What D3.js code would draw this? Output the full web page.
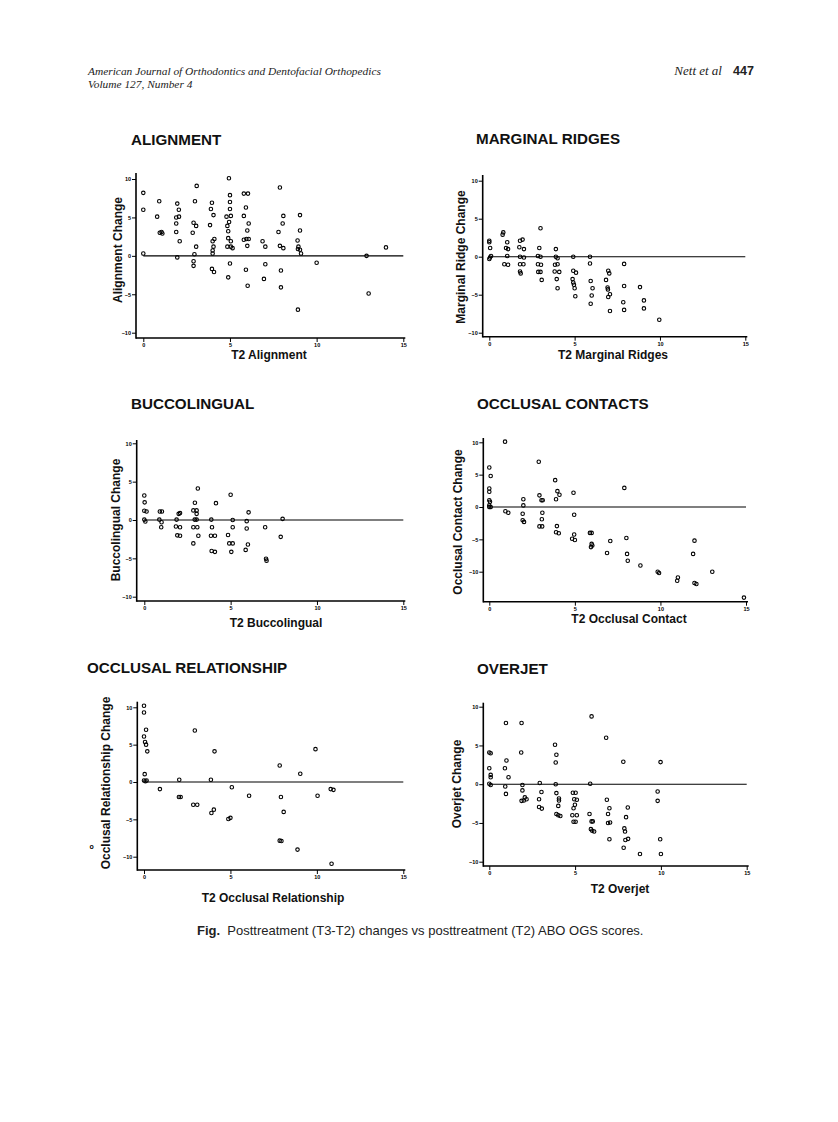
<!DOCTYPE html>
<html>
<head>
<meta charset="utf-8">
<script src="https://cdn.jsdelivr.net/npm/d3@7"></script>
<style>
  body { margin: 0; background: #fff; }
  svg { display: block; }
</style>
</head>
<body>
<svg id="page" width="838" height="1122"></svg>
<script>
// Werte: [T2-Score, Veränderung T3-T2]
const alignmentPts = [
  [0,8.2],[0,6],[0,0.3],[0.92,7.1],[0.8,5.1],[0.95,3],[1.05,3.1],[1.1,2.9],[1.96,6.8],[2.05,6],
  [1.9,5],[2.06,5.1],[1.9,4.2],[1.9,3.1],[2.1,1.9],[1.96,-0.2],[3.08,9.1],[2.98,7.1],[2.9,4.3],[3.05,3.9],
  [2.85,3],[3.05,1.2],[2.95,0.2],[2.9,-0.7],[2.9,-1.3],[3.96,6.9],[3.9,6.1],[4.05,5.3],[3.85,4],[4,1.9],
  [4.1,2.2],[4.05,1.2],[4,0.7],[4,0.3],[3.96,-1.7],[4.08,-2.1],[4.94,10.1],[5,7.9],[5,7],[5,6.1],
  [4.8,5.1],[5.05,5.2],[4.95,4.4],[4.85,3.9],[4.9,3.2],[4.9,2.3],[5.05,1.9],[4.85,1.2],[5.05,1.2],[5.15,1],
  [5,-1],[4.9,-2.8],[5.8,8.1],[6.04,8.1],[5.92,6.3],[5.8,5.2],[6.08,4.2],[6,3.3],[5.8,2.1],[5.95,2.2],
  [6.08,2.2],[6,1.3],[5.92,-1.8],[6.02,-3.9],[6.88,1.9],[7.04,1.2],[7.04,-1.1],[6.96,-3],[7.8,3.1],[7.88,8.9],
  [8.08,5.2],[8.04,4.2],[7.88,1.3],[8.08,1],[7.94,-1.9],[7.94,-4.1],[9.04,5.3],[9.04,3.3],[8.9,2],[8.95,1.2],
  [8.92,0.9],[9.04,0.8],[9.1,0.3],[8.92,-7],[10,-0.9],[12.88,0],[13,-4.9],[14,1.1]
];
const ridgesPts = [
  [0,2.1],[0,1.9],[0.05,1.15],[0.04,-0.1],[0,-0.3],[0.1,0.1],[0.82,3.2],[0.78,2.9],[1.05,1.9],[0.98,1.15],
  [1.1,1],[1.05,0.1],[0.88,-1],[1.1,-1.05],[1.8,2.1],[1.95,2.25],[1.76,1.25],[2.03,1],[1.8,0],[2.03,-0.1],
  [1.8,-1],[2,-1],[1.8,-1.95],[1.84,-2.2],[3,3.75],[2.93,1.15],[2.85,0.1],[3,0],[2.85,-1],[3.03,-1.05],
  [2.87,-2],[3,-2],[3.07,-3.05],[3.9,1],[3.9,0],[4,-0.2],[3.85,-1.05],[4,-1],[3.83,-1.95],[4.1,-2],
  [3.95,-2.95],[4,-4.15],[4.92,0],[4.92,-1.85],[5.08,-2.1],[4.88,-2.95],[4.92,-3.4],[4.96,-3.7],[5,-4.15],[5.04,-5.2],
  [5.9,0],[5.9,-0.9],[5.94,-3.2],[6.05,-4.15],[6,-5.1],[5.94,-6.2],[6.97,-1.85],[7.03,-2.2],[6.84,-3.05],[6.93,-4.05],
  [6.95,-4.3],[7.07,-4.95],[6.97,-5.3],[7.07,-7.15],[7.9,-0.95],[7.9,-3.85],[7.85,-6],[7.9,-7],[8.83,-4],[9.06,-5.75],
  [9.06,-6.8],[9.96,-8.3]
];
const buccoPts = [
  [0,3.2],[0.02,2.3],[0,1.2],[0.13,1.1],[0,0.05],[0.06,-0.2],[0.87,0.05],[0.9,1.1],[1.02,1.1],[1,-0.3],
  [0.98,-0.95],[1.87,0.05],[1.99,0.8],[2.07,0.9],[1.83,-0.85],[2.07,-0.95],[1.91,-2],[2.07,-2.05],[2.93,2.25],[2.84,1.25],
  [3.03,1.25],[3.03,0.8],[2.92,0.05],[3.03,0.05],[2.84,-0.95],[3.07,-0.95],[3.13,-2.05],[2.84,-3.05],[3.1,4.1],[3.88,0.05],
  [3.92,-0.95],[3.86,-2.05],[4.09,-2.05],[3.9,-4.05],[4.09,-4.15],[4.15,2.2],[5,3.3],[5.12,0],[5.12,-0.95],[4.85,-1.95],
  [4.92,-3.05],[5.12,-3.05],[5.04,-4.15],[6.04,1],[5.93,-0.15],[5.93,-1.1],[6,-3.2],[5.87,-3.9],[7,-0.95],[7.05,-5.05],
  [7.08,-5.3],[8.01,0.15],[7.9,-2.2]
];
const contactsPts = [
  [0,6.1],[0.08,4.8],[0,2.85],[0,2.35],[0,1.05],[0.04,0.8],[0,0],[0.08,0],[0,0.25],[0.92,10.1],
  [0.94,-0.65],[1.11,-0.9],[1.99,1.2],[1.99,0.25],[1.95,-1.05],[1.95,-2.05],[2.03,-2.3],[2.89,7],[2.93,1.8],[3.05,1.05],
  [3.12,1.05],[3.1,-0.9],[3.07,-1.9],[2.93,-3],[3.09,-3],[3.85,4.15],[3.98,2.45],[4.1,1.9],[3.9,1.2],[3.95,-2.95],
  [3.9,-3.9],[4.06,-4.05],[4.92,2.2],[4.96,-1.2],[4.96,-4.25],[4.84,-4.9],[5,-5.1],[5.88,-4],[5.98,-4],[5.98,-5.7],
  [6.02,-5.95],[5.94,-6.2],[7.07,-5.25],[6.88,-7.1],[7.89,2.95],[8.01,-4.8],[8.05,-7.25],[8.09,-8.3],[8.83,-9.05],[9.84,-10],
  [9.92,-10.2],[10.98,-11.4],[11.02,-10.9],[11.91,-7.25],[11.99,-5.2],[11.99,-11.75],[12.1,-11.9],[13.03,-10],[14.88,-14]
];
const relationPts = [
  [0,10.2],[0,9.3],[0.12,7],[0,6.1],[0.06,5.35],[0.12,5],[0.19,4.1],[0.04,1.05],[0,0.2],[0.08,0.1],
  [0.15,0.2],[0.92,-0.95],[2.04,0.3],[2.02,-2],[2.12,-2],[2.94,6.9],[2.85,-3.05],[3.08,-3.05],[3.87,0.3],[3.9,-4.15],
  [4.04,-3.7],[4.08,4.1],[4.88,-4.95],[5,-4.8],[5.08,-0.7],[6.08,-1.85],[7.85,2.2],[7.92,-2],[8.08,-4],[7.85,-7.85],
  [7.95,-7.9],[8.88,-9.05],[9.04,1.1],[9.92,4.4],[10.04,-1.85],[10.8,-0.95],[10.96,-1.05],[10.85,-10.95]
];
const overjetPts = [
  [0,4.1],[0.08,4],[0,2.05],[0.08,1.2],[0.08,0.9],[0,0.05],[0.08,-0.1],[0.97,7.9],[1,3.05],[0.91,2.05],
  [1.12,0.9],[0.93,-0.3],[0.97,-1.25],[1.88,7.9],[1.86,4.1],[1.93,-0.1],[1.93,-0.8],[2.07,-1.7],[2.17,-1.95],[1.88,-2.15],
  [2.01,-2.1],[2.94,0.15],[3.04,-1],[2.9,-1.95],[2.9,-2.95],[3.06,-3.15],[3.83,5.1],[3.91,3.8],[3.87,2.8],[3.87,0],
  [3.91,-1.15],[4.06,-1.85],[4.06,-2.1],[4.02,-2.8],[3.91,-3.85],[4.02,-4],[4.14,-4.1],[4.87,-1.1],[5.03,-1.1],[4.95,-1.95],
  [5.1,-2],[4.99,-2.65],[4.91,-3.1],[4.84,-4],[5.1,-4],[4.91,-4.85],[5.03,-4.85],[5.84,-3.85],[5.96,-4.8],[6.03,-4.8],
  [5.92,-5.8],[6,-6],[6.11,-6.1],[5.96,8.75],[5.88,0.05],[6.81,6],[6.85,-2],[7,-3.1],[6.92,-3.85],[6.92,-5],
  [7.04,-4.95],[7,-7.1],[7.81,2.9],[8.07,-3],[7.97,-4.25],[7.87,-5.7],[7.91,-6.1],[7.93,-7.2],[8.09,-7.05],[7.83,-8.2],
  [8.78,-9],[9.81,-0.95],[9.81,-2.15],[9.98,2.85],[9.96,-7.1],[10,-9]
];

// Achsenbeschriftung
const xTicks = [0, 5, 10, 15];
const yTicks = [10, 5, 0, -5, -10];

// == Layout der sechs Panels (Pixel im Seitenbild) ==
const panels = [
  {title: 'ALIGNMENT', tx: 131, ty: 145, pts: alignmentPts, xLabel: 'T2 Alignment', yLabel: 'Alignment Change',
   ax: 136, x0: 143.3, x15: 403.3, y10: 179, ym10: 332.7, top: 173, bottom: 338, xlx: 269, xly: 359, ylx: 118, yly: 250},
  {title: 'MARGINAL RIDGES', tx: 476, ty: 144, pts: ridgesPts, xLabel: 'T2 Marginal Ridges', yLabel: 'Marginal Ridge Change',
   ax: 482.7, x0: 489.3, x15: 745.3, y10: 180.7, ym10: 332.7, top: 175, bottom: 336.7, xlx: 613, xly: 359, ylx: 461, yly: 257},
  {title: 'BUCCOLINGUAL', tx: 131, ty: 409, pts: buccoPts, xLabel: 'T2 Buccolingual', yLabel: 'Buccolingual Change',
   ax: 136.7, x0: 144.3, x15: 403.3, y10: 443.3, ym10: 596.7, top: 440, bottom: 601, xlx: 276, xly: 627, ylx: 116, yly: 520},
  {title: 'OCCLUSAL CONTACTS', tx: 477, ty: 409, pts: contactsPts, xLabel: 'T2 Occlusal Contact', yLabel: 'Occlusal Contact Change',
   ax: 483.3, x0: 489.3, x15: 746, y10: 442.3, ym10: 571.7, top: 438, bottom: 601.7, xlx: 629, xly: 623, ylx: 458, yly: 522},
  {title: 'OCCLUSAL RELATIONSHIP', tx: 87, ty: 673, pts: relationPts, xLabel: 'T2 Occlusal Relationship', yLabel: 'Occlusal Relationship Change',
   ax: 137.3, x0: 144, x15: 403.3, y10: 707.3, ym10: 856.7, top: 701.7, bottom: 870, xlx: 273, xly: 902, ylx: 106, yly: 783},
  {title: 'OVERJET', tx: 477, ty: 674, pts: overjetPts, xLabel: 'T2 Overjet', yLabel: 'Overjet Change',
   ax: 483.3, x0: 489.3, x15: 746.7, y10: 706.7, ym10: 861.7, top: 702.7, bottom: 866, xlx: 620, xly: 893, ylx: 457, yly: 784}
];

const svg = d3.select('#page');

// == Kopfzeile ==
const head = svg.append('g').attr('fill', '#222');
head.append('text').attr('x', 88).attr('y', 75)
  .attr('font-family', 'Liberation Serif, serif').attr('font-style', 'italic').attr('font-size', 11.4)
  .text('American Journal of Orthodontics and Dentofacial Orthopedics');
head.append('text').attr('x', 88).attr('y', 88)
  .attr('font-family', 'Liberation Serif, serif').attr('font-style', 'italic').attr('font-size', 11.4)
  .text('Volume 127, Number 4');
head.append('text').attr('x', 722).attr('y', 75).attr('text-anchor', 'end')
  .attr('font-family', 'Liberation Serif, serif').attr('font-style', 'italic').attr('font-size', 13)
  .text('Nett et al');
head.append('text').attr('x', 733).attr('y', 75)
  .attr('font-family', 'Liberation Sans, Arial, sans-serif').attr('font-weight', 'bold').attr('font-size', 12.5)
  .text('447');

/**
 * Zeichnet ein Streudiagramm mit Achsen, Nulllinie und Beschriftung
 */
function drawPanel(p) {
  const g = svg.append('g');
  const x = d3.scaleLinear().domain([0, 15]).range([p.x0, p.x15]);
  const y = d3.scaleLinear().domain([-10, 10]).range([p.ym10, p.y10]);

  // Titel
  g.append('text').attr('x', p.tx).attr('y', p.ty)
    .attr('font-family', 'Liberation Sans, Arial, sans-serif').attr('font-weight', 'bold')
    .attr('font-size', 15.2).attr('fill', '#111')
    .text(p.title);

  // Y-Achse
  const yAxis = g.append('g').attr('transform', `translate(${p.ax},0)`)
    .call(d3.axisLeft(y).tickValues(yTicks).tickSize(4).tickSizeOuter(0).tickFormat(d3.format('d')));
  yAxis.select('.domain').remove();
  // X-Achse
  const xAxis = g.append('g').attr('transform', `translate(0,${p.bottom})`)
    .call(d3.axisBottom(x).tickValues(xTicks).tickSize(4).tickSizeOuter(0).tickFormat(d3.format('d')));
  xAxis.select('.domain').remove();
  [yAxis, xAxis].forEach(a => {
    a.selectAll('line').attr('stroke', '#000').attr('stroke-width', 1);
    a.selectAll('text').attr('font-family', 'Liberation Sans, Arial, sans-serif')
      .attr('font-weight', 'bold').attr('font-size', 5.5).attr('fill', '#000');
  });
  yAxis.selectAll('text').attr('x', -5);
  xAxis.selectAll('text').attr('y', 5);

  // Achsenlinien
  g.append('line').attr('x1', p.ax).attr('x2', p.ax).attr('y1', p.top).attr('y2', p.bottom + 0.8)
    .attr('stroke', '#000').attr('stroke-width', 1.6);
  g.append('line').attr('x1', p.ax).attr('x2', x(15) + 2).attr('y1', p.bottom).attr('y2', p.bottom)
    .attr('stroke', '#000').attr('stroke-width', 1.6);

  // Nulllinie
  g.append('line').attr('x1', x(0)).attr('x2', x(15)).attr('y1', y(0)).attr('y2', y(0))
    .attr('stroke', '#000').attr('stroke-width', 1.1);

  // Punkte
  g.append('g').selectAll('circle')
    .data(p.pts)
    .enter()
    .append('circle')
    .attr('cx', d => x(d[0]))
    .attr('cy', d => y(d[1]))
    .attr('r', 1.75)
    .attr('fill', 'none')
    .attr('stroke', '#000')
    .attr('stroke-width', 1.1);

  // Achsentitel
  g.append('text').attr('x', p.xlx).attr('y', p.xly).attr('text-anchor', 'middle')
    .attr('font-family', 'Liberation Sans, Arial, sans-serif').attr('font-weight', 'bold')
    .attr('font-size', 12).attr('fill', '#111')
    .text(p.xLabel);
  g.append('text').attr('transform', `translate(${p.ylx},${p.yly}) rotate(-90)`)
    .attr('text-anchor', 'middle').attr('dy', '0.35em')
    .attr('font-family', 'Liberation Sans, Arial, sans-serif').attr('font-weight', 'bold')
    .attr('font-size', 12).attr('fill', '#111')
    .text(p.yLabel);
}

panels.forEach(drawPanel);

// kleiner Kreis links neben dem Y-Titel (im Original vorhanden)
svg.append('text').attr('x', 91.7).attr('y', 848.5).attr('text-anchor', 'middle')
  .attr('font-family', 'Liberation Sans, Arial, sans-serif').attr('font-weight', 'bold')
  .attr('font-size', 7).attr('fill', '#000').text('o');

// == Bildunterschrift ==
const cap = svg.append('text').attr('x', 197).attr('y', 935)
  .attr('font-family', 'Liberation Sans, Arial, sans-serif').attr('font-size', 13).attr('fill', '#222');
cap.append('tspan').attr('font-weight', 'bold').text('Fig.');
cap.append('tspan').text('\u00a0 Posttreatment (T3-T2) changes vs posttreatment (T2) ABO OGS scores.');
</script>
</body>
</html>
